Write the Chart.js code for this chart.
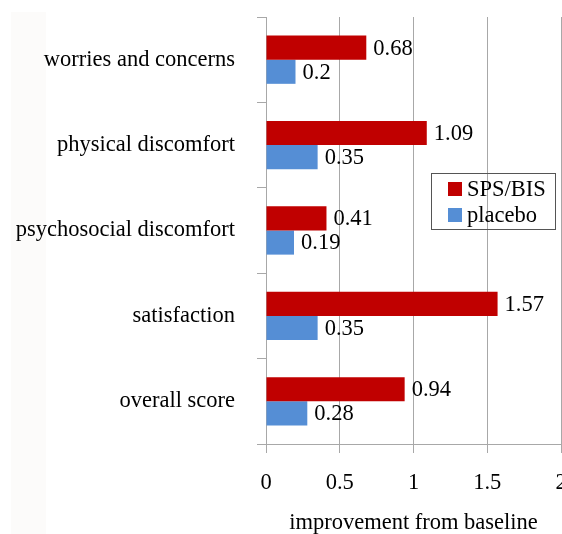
<!DOCTYPE html>
<html lang="en">
<head>
    <meta charset="UTF-8">
    <title>Improvement from baseline</title>
    <script src="https://cdn.jsdelivr.net/npm/chart.js"></script>
    <style>
        html, body { margin: 0; padding: 0; background: #fff; }
        .wrap { position: relative; width: 562px; height: 534px; }
        .strip { position: absolute; left: 11px; top: 12px; width: 35px; bottom: 0; background: #fcfbfa; }
        canvas { position: absolute; left: 0; top: 0; }
    </style>
</head>
<body>
    <div class="wrap">
        <div class="strip"></div>
        <canvas id="chart" width="562" height="534"></canvas>
    </div>

    <script>
        const categories = ['worries and concerns', 'physical discomfort', 'psychosocial discomfort', 'satisfaction', 'overall score'];
        const spsBis = [0.68, 1.09, 0.41, 1.57, 0.94];
        const placebo = [0.2, 0.35, 0.19, 0.35, 0.28];
        const xTicks = [0, 0.5, 1, 1.5, 2];

        const serif = "'Liberation Serif', 'Times New Roman', serif";
        const gridColor = '#a8a8a8';

        // value labels at the end of each bar
        const barLabels = {
            id: 'barLabels',
            afterDatasetsDraw(chart) {
                const ctx = chart.ctx;
                ctx.save();
                ctx.font = '22.5px ' + serif;
                ctx.fillStyle = '#000';
                ctx.textBaseline = 'middle';
                ctx.textAlign = 'left';
                chart.data.datasets.forEach((ds, i) => {
                    chart.getDatasetMeta(i).data.forEach((bar, j) => {
                        ctx.fillText(String(ds.data[j]), bar.x + 7, bar.y + 1);
                    });
                });
                ctx.restore();
            }
        };

        // boxed legend inside the plot
        const boxLegend = {
            id: 'boxLegend',
            afterDraw(chart) {
                const ctx = chart.ctx;
                const x = 431, y = 173, w = 124, h = 56;
                ctx.save();
                ctx.strokeStyle = '#555';
                ctx.lineWidth = 1;
                ctx.strokeRect(x + 0.5, y + 0.5, w, h);
                ctx.font = '22.5px ' + serif;
                ctx.textBaseline = 'middle';
                chart.data.datasets.forEach((ds, i) => {
                    const cy = y + 16 + i * 26;
                    ctx.fillStyle = ds.backgroundColor;
                    ctx.fillRect(x + 17, cy - 7, 14, 14);
                    ctx.fillStyle = '#000';
                    ctx.fillText(ds.label, x + 36, cy + 1);
                });
                ctx.restore();
            }
        };

        new Chart(document.getElementById('chart'), {
            type: 'bar',
            data: {
                labels: categories,
                datasets: [
                    { label: 'SPS/BIS', data: spsBis, backgroundColor: '#c00000' },
                    { label: 'placebo', data: placebo, backgroundColor: '#558ed5' }
                ]
            },
            options: {
                indexAxis: 'y',
                responsive: false,
                animation: false,
                layout: { padding: { top: 17, right: 1, left: 0, bottom: 0 } },
                datasets: { bar: { categoryPercentage: 0.565, barPercentage: 1 } },
                plugins: {
                    legend: { display: false },
                    tooltip: { enabled: false }
                },
                scales: {
                    x: {
                        min: 0,
                        max: 2,
                        afterBuildTicks: s => { s.ticks = xTicks.map(v => ({ value: v })); },
                        afterFit: s => { s.height = 90; s.paddingRight = 0; s.paddingLeft = 0; },
                        ticks: {
                            font: { family: serif, size: 22.5 },
                            color: '#000',
                            padding: 17,
                            callback: v => String(v)
                        },
                        grid: { color: gridColor, tickLength: 9, lineWidth: 1 },
                        border: { color: gridColor },
                        title: {
                            display: true,
                            text: 'improvement from baseline',
                            font: { family: serif, size: 22.5 },
                            color: '#000',
                            padding: { top: 4, bottom: -3 }
                        }
                    },
                    y: {
                        afterFit: s => { s.width = 266; s.paddingTop = 0; s.paddingBottom = 0; },
                        ticks: {
                            font: { family: serif, size: 22.5 },
                            color: '#000',
                            crossAlign: 'near',
                            padding: 22
                        },
                        grid: { drawOnChartArea: false, color: gridColor, tickLength: 9 },
                        border: { color: gridColor }
                    }
                }
            },
            plugins: [barLabels, boxLegend]
        });
    </script>
</body>
</html>
